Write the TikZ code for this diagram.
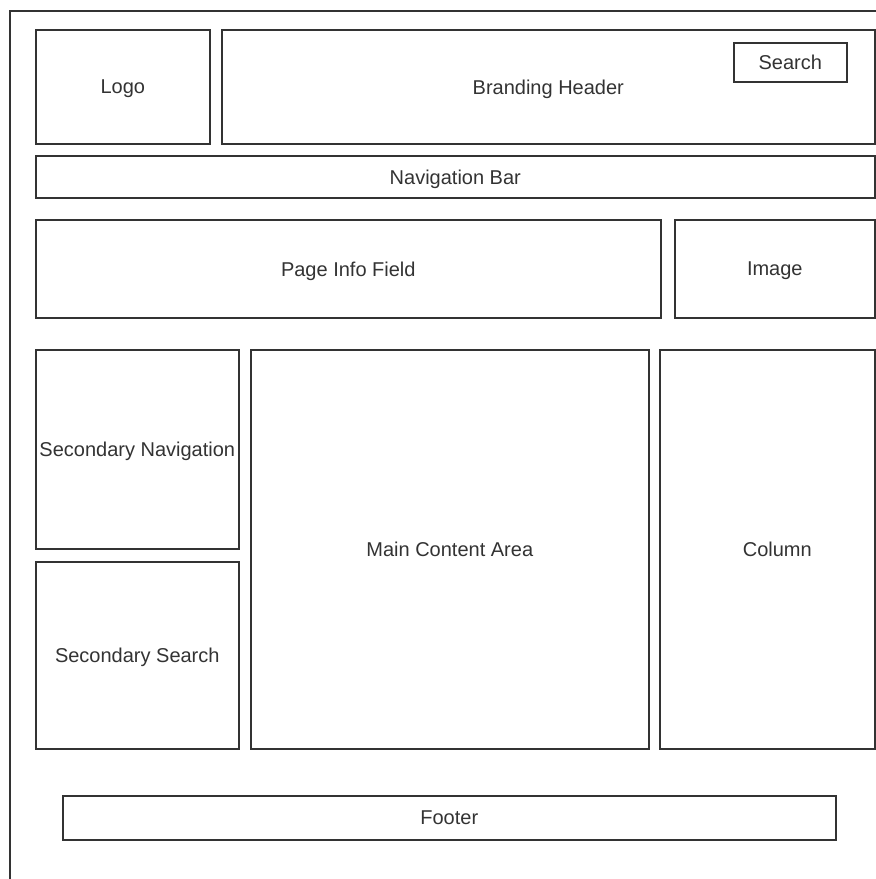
\documentclass[tikz,border=0pt]{standalone}
\usepackage{fontspec}
\setmainfont{Liberation Sans}
\definecolor{linec}{HTML}{333333}
\definecolor{textc}{HTML}{333333}
\begin{document}
\begin{tikzpicture}[x=1pt,y=-1pt,
  box/.style={draw=linec, line width=1.6pt, inner sep=0pt, anchor=north west,
    font=\fontsize{20}{23}\selectfont, text=textc, text depth=0pt},
  frame/.style={draw=linec, line width=1.6pt}]
\useasboundingbox[fill=white] (0,0) rectangle (876,879);
\coordinate (fbl) at (10,879);
\coordinate (ftl) at (10,11);
\coordinate (ftr) at (876,11);
\draw[frame] (fbl) -- (ftl) -- (ftr);
\node[box, minimum width=174, minimum height=114] (logo) at (35,29) {Logo};
\node[box, minimum width=653, minimum height=114] (brand) at (221,29) {Branding Header};
\node[box, minimum width=113, minimum height=39] (search) at (733,42) {Search};
\node[box, minimum width=839, minimum height=42] (nav) at (35,155) {Navigation Bar};
\node[box, minimum width=625, minimum height=98] (info) at (35,219) {Page Info Field};
\node[box, minimum width=200, minimum height=98] (image) at (674,219) {Image};
\node[box, minimum width=203, minimum height=199] (secnav) at (35,349) {Secondary Navigation};
\node[box, minimum width=203, minimum height=187] (secsearch) at (35,561) {Secondary Search};
\node[box, minimum width=398, minimum height=399] (main) at (250,349) {Main Content Area};
\node[box, minimum width=215, minimum height=399,
  label={[xshift=10pt, font=\fontsize{20}{23}\selectfont, text=textc]center:Column}] (col) at (659,349) {};
\node[box, minimum width=773, minimum height=44] (footer) at (62,795) {Footer};
\end{tikzpicture}
\end{document}
